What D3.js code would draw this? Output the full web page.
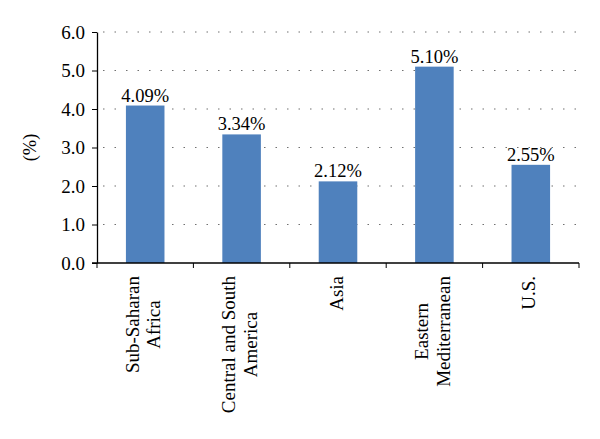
<!DOCTYPE html>
<html>
<head>
<meta charset="utf-8">
<script src="https://cdnjs.cloudflare.com/ajax/libs/d3/7.8.5/d3.min.js"></script>
<style>
body { margin: 0; background: #fff; }
svg text { font-family: "Liberation Serif", "Times New Roman", serif; fill: #000; }
.grid line { stroke: #707070; stroke-width: 1.2; stroke-dasharray: 1.5 10; }
</style>
</head>
<body>
<svg id="chart" width="600" height="439"></svg>
<script>
const categories = [["Sub-Saharan", "Africa"], ["Central and South", "America"], ["Asia"], ["Eastern", "Mediterranean"], ["U.S."]];
const values = [4.09, 3.34, 2.12, 5.10, 2.55];
const yTicks = [0, 1, 2, 3, 4, 5, 6];

const margins = {top: 32, left: 97, right: 21, bottom: 176};
const W = 600, H = 439;
const w = W - margins.left - margins.right,
      h = H - margins.top - margins.bottom;

let svg = d3.select("#chart");
let g = svg.append("g").attr("transform", `translate(${margins.left},${margins.top})`);

let x = d3.scaleBand().domain(d3.range(values.length)).range([0, w]).paddingInner(0.6).paddingOuter(0.3);
let band = d3.scaleBand().domain(d3.range(values.length)).range([0, w]);
let y = d3.scaleLinear().domain([0, 6]).range([h, 0]);

// dotted gridlines
g.append("g").attr("class", "grid")
    .selectAll("line")
    .data(yTicks.filter(d => d > 0))
    .join("line")
        .attr("x1", 6).attr("x2", w)
        .attr("y1", d => y(d)).attr("y2", d => y(d));

// bars
g.selectAll("rect.bar")
    .data(values)
    .join("rect")
        .attr("class", "bar")
        .attr("x", (d, i) => x(i))
        .attr("width", x.bandwidth())
        .attr("y", d => y(d))
        .attr("height", d => h - y(d))
        .attr("fill", "#4F81BD");

// value labels
g.selectAll("text.val")
    .data(values)
    .join("text")
        .attr("class", "val")
        .attr("x", (d, i) => x(i) + x.bandwidth() / 2)
        .attr("y", d => y(d) - 4)
        .attr("text-anchor", "middle")
        .style("font-size", "18.5px")
        .text(d => d.toFixed(2) + "%");

// y axis
let yAxis = d3.axisLeft(y).tickValues(yTicks).tickFormat(d3.format(".1f")).tickSize(5).tickSizeOuter(0).tickPadding(7);
let ya = g.append("g").call(yAxis);
ya.select(".domain").attr("stroke", "#000").attr("stroke-width", 1.3);
ya.selectAll(".tick line").attr("stroke", "#000");
ya.selectAll(".tick text").style("font-size", "19px").attr("fill", "#000");

// x axis with ticks at category boundaries
let xa = g.append("g").attr("transform", `translate(0,${h})`);
xa.append("line").attr("x1", -5).attr("x2", w).attr("stroke", "#000").attr("stroke-width", 1.3);
xa.selectAll("line.tk")
    .data(d3.range(values.length + 1))
    .join("line")
        .attr("class", "tk")
        .attr("x1", i => i < values.length ? band(i) : w)
        .attr("x2", i => i < values.length ? band(i) : w)
        .attr("y1", 0).attr("y2", 5)
        .attr("stroke", "#000");

// category labels, rotated
let fs = 19, lh = 21.5;
categories.forEach((lines, i) => {
    let cx = band(i) + band.bandwidth() / 2;
    let t = xa.append("text")
        .attr("text-anchor", "middle")
        .style("font-size", fs + "px");
    lines.forEach((l, j) => {
        t.append("tspan").attr("x", 0).attr("dy", j === 0 ? 0 : lh).text(l);
    });
    let maxLen = d3.max(t.selectAll("tspan").nodes(), n => n.getComputedTextLength());
    let n = lines.length;
    // baseline offset so block of lines is centred on band
    let bx = cx - ((n - 1) * lh) / 2 + 4.5;
    t.attr("transform", `translate(${bx},${13 + maxLen / 2}) rotate(-90)`);
});

// y title
svg.append("text")
    .attr("transform", `translate(36,${margins.top + h / 2}) rotate(-90)`)
    .attr("text-anchor", "middle")
    .style("font-size", "18.5px")
    .text("(%)");
</script>
</body>
</html>
